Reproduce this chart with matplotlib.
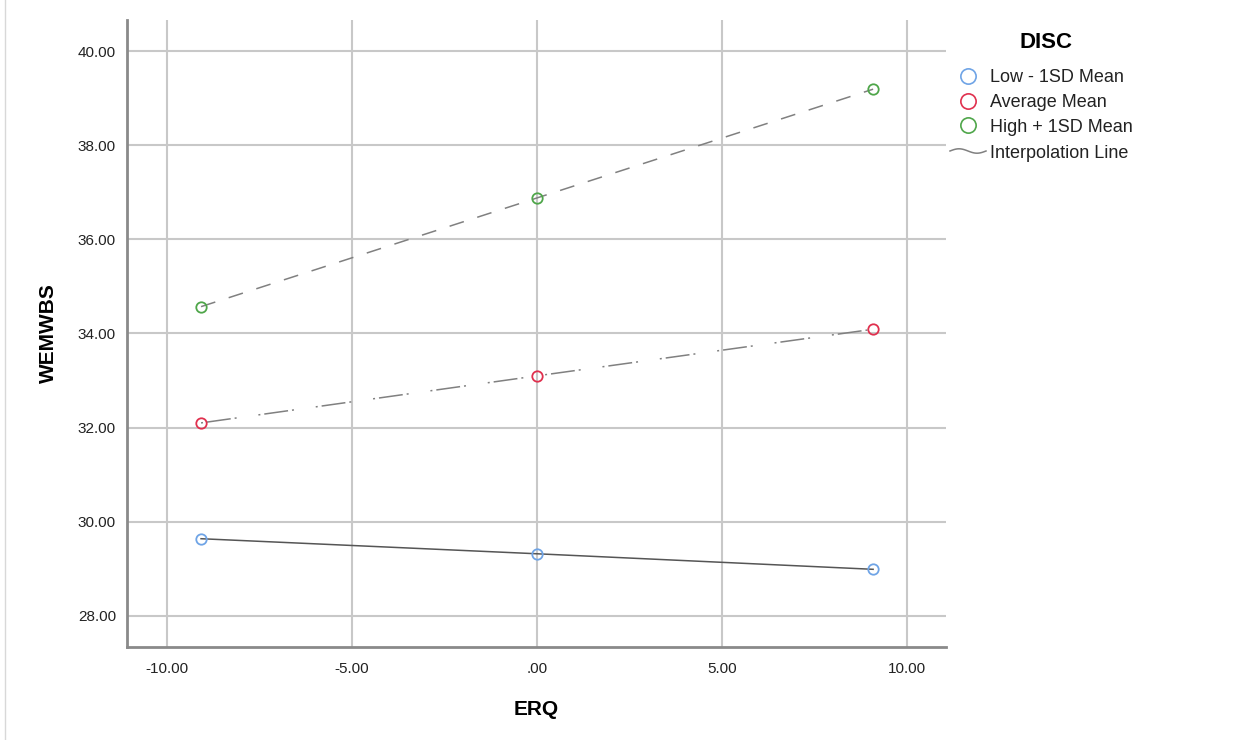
import numpy as np
import matplotlib.pyplot as plt
from matplotlib.lines import Line2D

plt.rcParams['font.family'] = ['Liberation Sans', 'DejaVu Sans']

# data
erq = [-9.08, 0.0, 9.08]
low_mean = [29.64, 29.32, 28.99]
avg_mean = [32.10, 33.10, 34.09]
high_mean = [34.57, 36.88, 39.19]

groups = ['Low - 1SD Mean', 'Average Mean', 'High + 1SD Mean']
colors = ['#6fa4e6', '#e0304e', '#4fa64a']
line_styles = ['-', (0, (1.3, 2.6, 15.7, 2.6, 1.3, 14.4)), (0, (9.8, 9.2))]
line_colors = ['#555555', '#808080', '#808080']

fig = plt.figure(figsize=(12.59, 7.4), dpi=100)
ax = fig.add_axes([0.1009, 0.1257, 0.6505, 0.8473])

for vals, c, ls, lc in zip([low_mean, avg_mean, high_mean], colors, line_styles, line_colors):
    ax.plot(erq, vals, linestyle=ls, color=lc, linewidth=1.1, zorder=3)
    ax.plot(erq, vals, linestyle='none', marker='o', markersize=7.5,
            markerfacecolor='none', markeredgecolor=c, markeredgewidth=1.3, zorder=4)

ax.set_xlim(-11.08, 11.05)
ax.set_ylim(27.34, 40.66)
ax.set_xticks([-10, -5, 0, 5, 10])
ax.set_xticklabels(['-10.00', '-5.00', '.00', '5.00', '10.00'])
ax.set_yticks([28, 30, 32, 34, 36, 38, 40])
ax.set_yticklabels(['28.00', '30.00', '32.00', '34.00', '36.00', '38.00', '40.00'])
ax.tick_params(length=0, labelsize=11, colors='#222222', pad=8)
ax.tick_params(axis='x', pad=11)

ax.grid(True, color='#c8c8c8', linewidth=1.5, zorder=1)
ax.set_axisbelow(True)
for s in ['top', 'right']:
    ax.spines[s].set_visible(False)
for s in ['left', 'bottom']:
    ax.spines[s].set_color('#8a8a8a')
    ax.spines[s].set_linewidth(2)

ax.set_xlabel('ERQ', fontsize=15, fontweight='bold', labelpad=17)
ax.set_ylabel('WEMWBS', fontsize=15, fontweight='bold', labelpad=14)

# legend drawn by hand in pixel coordinates
W, H = 1259, 740
def fx(px):
    return px / W
def fy(py):
    return 1 - py / H

fig.text(fx(1046), fy(42), 'DISC', fontsize=16, fontweight='bold', ha='center', va='center')
for i, (g, c) in enumerate(zip(groups, colors)):
    y = 76 + i * 24.5
    fig.add_artist(Line2D([fx(968)], [fy(y)], marker='o', markersize=11,
                          markerfacecolor='none', markeredgecolor=c, markeredgewidth=1.2,
                          transform=fig.transFigure))
    fig.text(fx(990), fy(y + 2), g, fontsize=13, va='center', color='#222222')

t = np.linspace(0, 1, 40)
wx = 950 + 36 * t
wy = 151 + 2.2 * np.sin(2 * np.pi * t + np.pi)
fig.add_artist(Line2D(fx(wx), fy(wy), color='#808080', linewidth=1.1, transform=fig.transFigure))
fig.text(fx(990), fy(153), 'Interpolation Line', fontsize=13, va='center', color='#222222')

# thin frame line at the left edge
fig.add_artist(Line2D([fx(5), fx(5)], [0, 1], color='#d8d8d8', linewidth=1, transform=fig.transFigure))

fig.savefig('out.png', dpi=100)
